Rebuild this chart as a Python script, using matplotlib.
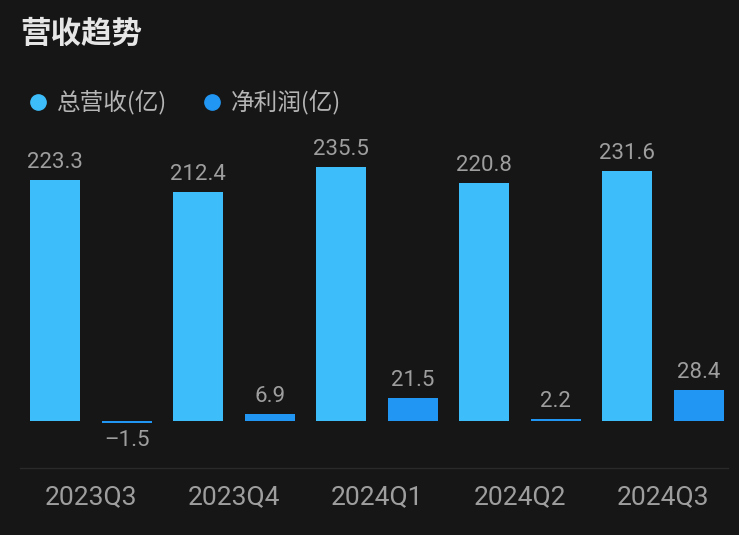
import matplotlib
matplotlib.use('Agg')
import matplotlib.pyplot as plt
import numpy as np
from matplotlib.lines import Line2D

plt.rcParams['font.family'] = ['Noto Sans CJK SC', 'DejaVu Sans']

quarters = ['2023Q3', '2023Q4', '2024Q1', '2024Q2', '2024Q3']
revenue = [223.3, 212.4, 235.5, 220.8, 231.6]   # 总营收(亿)
profit = [-1.5, 6.9, 21.5, 2.2, 28.4]           # 净利润(亿)

bg = '#161616'
c_rev = '#3dbdfa'
c_pro = '#2196f3'
c_txt = '#9e9e9e'

fig = plt.figure(figsize=(7.39, 5.35), dpi=100, facecolor=bg)
ax = fig.add_axes([0.027, 0.1252, 0.958, 0.613])
ax.set_facecolor(bg)

x = np.arange(len(quarters))
w = 0.35
b1 = ax.bar(x - 0.25, revenue, w, color=c_rev)
b2 = ax.bar(x + 0.25, profit, w, color=c_pro)

for rect, v in zip(list(b1) + list(b2), revenue + profit):
    cx = rect.get_x() + rect.get_width() / 2
    if v >= 0:
        ax.annotate(f'{v:.1f}', (cx, v), xytext=(0, 5), textcoords='offset points',
                    ha='center', va='bottom', color=c_txt, fontsize=16, family='Roboto')
    else:
        ax.annotate(f'–{abs(v):.1f}', (cx, v), xytext=(0, -5), textcoords='offset points',
                    ha='center', va='top', color=c_txt, fontsize=16, family='Roboto')

ax.set_xlim(-0.497, 4.455)
ax.set_ylim(-43.6, 260.5)
ax.set_xticks(x)
ax.set_xticklabels(quarters, color=c_txt, fontsize=19, family='Roboto')
ax.tick_params(axis='x', length=0, pad=12)
ax.set_yticks([])
for s in ['top', 'left', 'right']:
    ax.spines[s].set_visible(False)
ax.spines['bottom'].set_color('#2a2a2a')
ax.spines['bottom'].set_linewidth(1)

# title
fig.text(20 / 739, 1 - 34 / 535, '营收趋势', color='#e6e6e6', fontsize=22,
         fontweight='bold', ha='left', va='center')

# legend
items = [('总营收(亿)', c_rev, 38), ('净利润(亿)', c_pro, 212)]
for label, col, px in items:
    fig.add_artist(Line2D([px / 739], [1 - 102 / 535], marker='o', markersize=11,
                          color=col, linestyle='none', transform=fig.transFigure))
    fig.text((px + 19) / 739, 1 - 102 / 535, label, color='#b5b5b5', fontsize=17,
             ha='left', va='center')

fig.savefig('out.png', dpi=100, facecolor=bg)
